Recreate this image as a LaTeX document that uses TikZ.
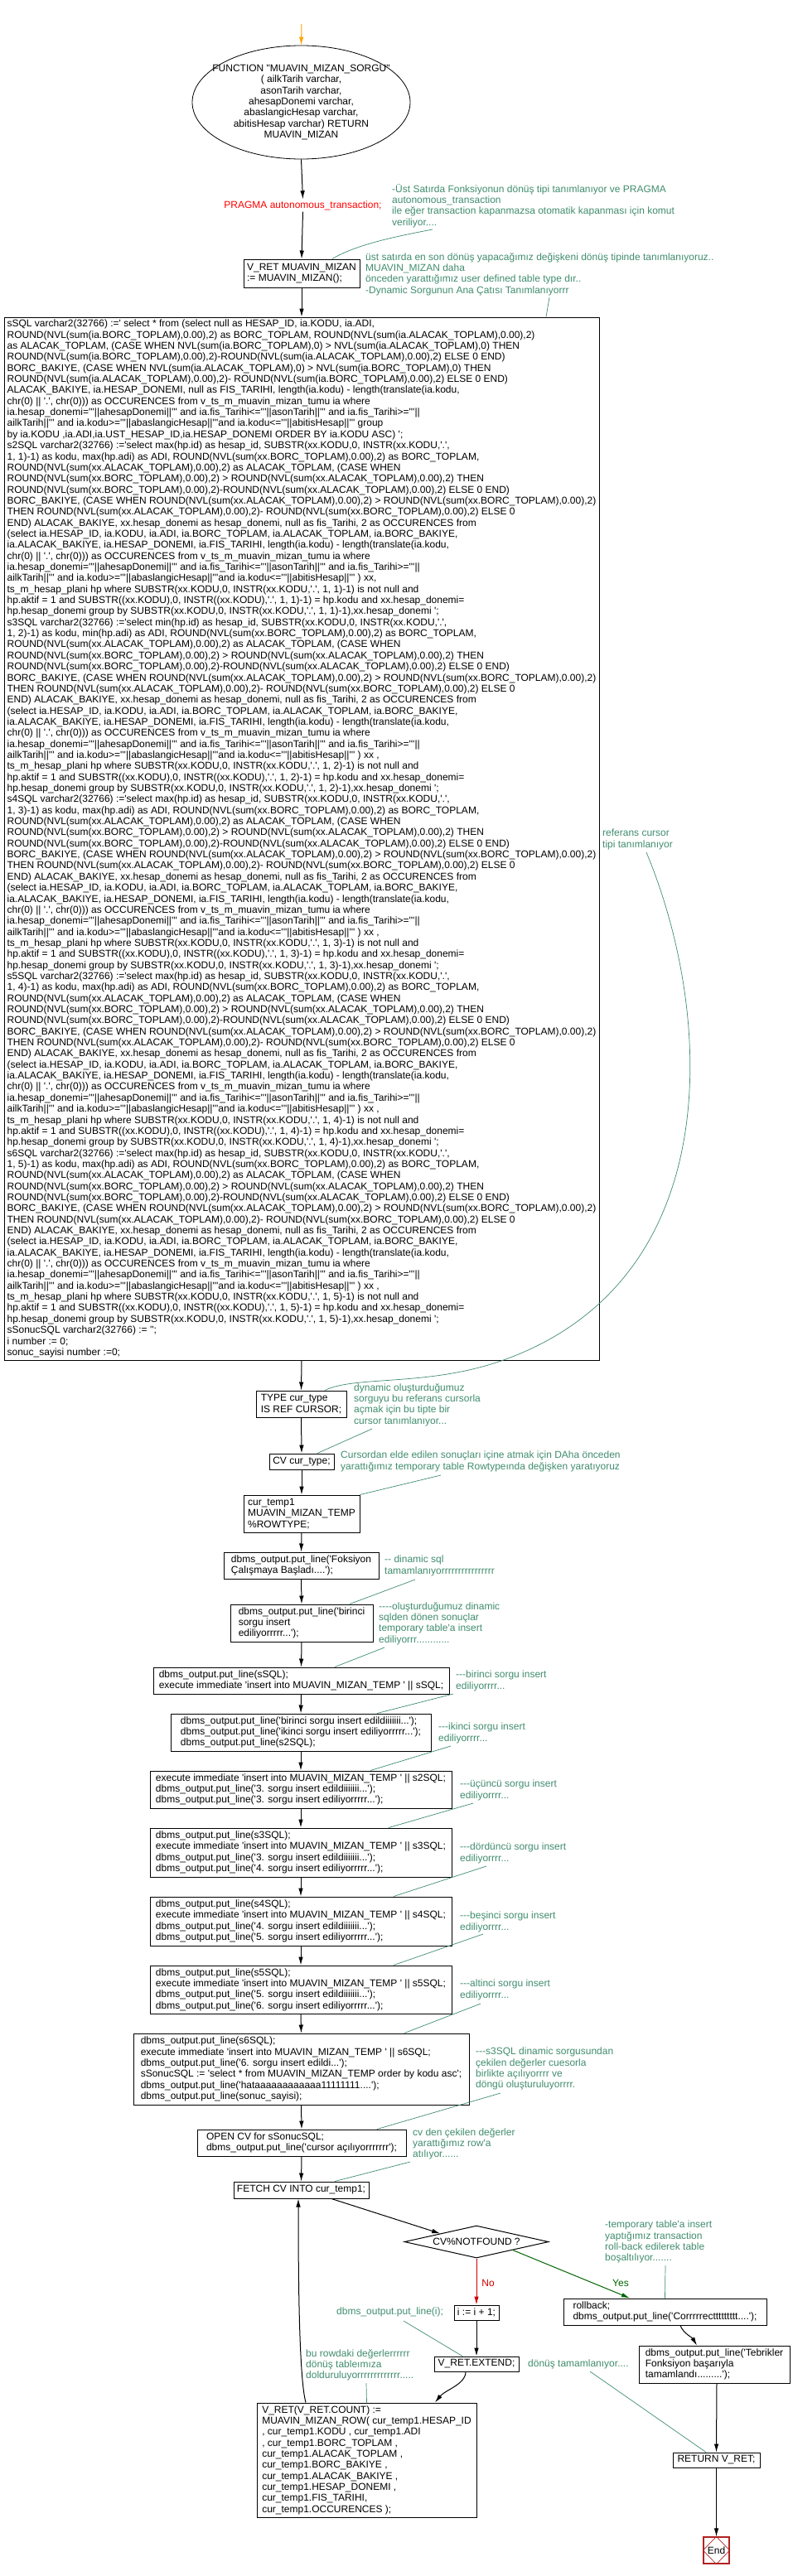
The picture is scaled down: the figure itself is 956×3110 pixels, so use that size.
\documentclass[tikz,border=0pt]{standalone}
\usepackage{fontspec}
\newfontfamily\arialf{Liberation Sans}
\usetikzlibrary{arrows.meta,shapes.geometric,calc}
\definecolor{cmtc}{RGB}{64,140,110}
\definecolor{endred}{RGB}{178,34,34}
\definecolor{yesgreen}{RGB}{0,100,0}
\definecolor{nored}{RGB}{210,0,0}
\definecolor{orng}{RGB}{255,165,0}
\newcommand\dfs{\fontsize{12}{13.35}\selectfont}
\newcommand\qq[1]{\hbox{#1}}
\newcommand\sqlblk[4]{%
\qq{s#1SQL varchar2(32766) :='select #3(hp.id) as hesap\_id, SUBSTR(xx.KODU,0, INSTR(xx.KODU,'.',}%
\qq{1, #2)-1) as kodu, #3(hp.adi) as ADI, ROUND(NVL(sum(xx.BORC\_TOPLAM),0.00),2) as BORC\_TOPLAM,}%
\qq{ROUND(NVL(sum(xx.ALACAK\_TOPLAM),0.00),2) as ALACAK\_TOPLAM, (CASE WHEN}%
\qq{ROUND(NVL(sum(xx.BORC\_TOPLAM),0.00),2) > ROUND(NVL(sum(xx.ALACAK\_TOPLAM),0.00),2) THEN}%
\qq{ROUND(NVL(sum(xx.BORC\_TOPLAM),0.00),2)-ROUND(NVL(sum(xx.ALACAK\_TOPLAM),0.00),2) ELSE 0 END)}%
\qq{BORC\_BAKIYE, (CASE WHEN ROUND(NVL(sum(xx.ALACAK\_TOPLAM),0.00),2) > ROUND(NVL(sum(xx.BORC\_TOPLAM),0.00),2)}%
\qq{THEN ROUND(NVL(sum(xx.ALACAK\_TOPLAM),0.00),2)- ROUND(NVL(sum(xx.BORC\_TOPLAM),0.00),2) ELSE 0}%
\qq{END) ALACAK\_BAKIYE, xx.hesap\_donemi as hesap\_donemi, null as fis\_Tarihi, 2 as OCCURENCES from}%
\qq{(select ia.HESAP\_ID, ia.KODU, ia.ADI, ia.BORC\_TOPLAM, ia.ALACAK\_TOPLAM, ia.BORC\_BAKIYE,}%
\qq{ia.ALACAK\_BAKIYE, ia.HESAP\_DONEMI, ia.FIS\_TARIHI, length(ia.kodu) - length(translate(ia.kodu,}%
\qq{chr(0) || '.', chr(0))) as OCCURENCES from v\_ts\_m\_muavin\_mizan\_tumu ia  where}%
\qq{ia.hesap\_donemi='''||ahesapDonemi||''' and ia.fis\_Tarihi<='''||asonTarih||''' and ia.fis\_Tarihi>='''||}%
\qq{ailkTarih||''' and ia.kodu>='''||abaslangicHesap||'''and ia.kodu<='''||abitisHesap||''' ) #4}%
\qq{ts\_m\_hesap\_plani hp where  SUBSTR(xx.KODU,0, INSTR(xx.KODU,'.', 1, #2)-1) is not null and}%
\qq{hp.aktif = 1 and SUBSTR((xx.KODU),0, INSTR((xx.KODU),'.', 1, #2)-1)  = hp.kodu and xx.hesap\_donemi=}%
\qq{hp.hesap\_donemi group by SUBSTR(xx.KODU,0, INSTR(xx.KODU,'.', 1, #2)-1),xx.hesap\_donemi  ';}}
\begin{document}
\begin{tikzpicture}[x=1pt,y=-1pt,
  every node/.style={font=\arialf\dfs},
  box/.style={draw, line width=1pt, align=left, inner sep=2pt},
  cmt/.style={text=cmtc, align=left, inner sep=0pt, anchor=north west},
  lnk/.style={draw=cmtc, line width=0.7pt},
  arr/.style={draw, line width=1pt, -{Latex[length=10pt,width=5.5pt]}}]
\useasboundingbox (0,0) rectangle (956,3110);

% ---------- top ----------
\coordinate (start) at (364,29);
\node[draw, ellipse, line width=0.8pt, minimum width=263, minimum height=137, inner sep=0] (func) at (363.5,123.5) {};
\node[align=center, inner sep=0] (functxt) at (func.center) {FUNCTION "MUAVIN\_MIZAN\_SORGU"\\( ailkTarih varchar,\\asonTarih varchar,\\ahesapDonemi  varchar,\\abaslangicHesap varchar,\\abitisHesap varchar) RETURN\\MUAVIN\_MIZAN};
\node[text=red, inner sep=2pt] (pragma) at (365.5,248) {PRAGMA autonomous\_transaction;};
\node[box, minimum width=140, minimum height=34] (vret) at (364,330) {V\_RET MUAVIN\_MIZAN\\:= MUAVIN\_MIZAN();};

\node[draw, line width=1pt, inner sep=2pt, minimum width=718, minimum height=1259] (sql) at (364,1012.5) {\vbox{\baselineskip=13.35pt\lineskiplimit=-20pt\lineskip=0pt
\qq{sSQL varchar2(32766) :=' select * from (select null as HESAP\_ID, ia.KODU, ia.ADI,}%
\qq{ROUND(NVL(sum(ia.BORC\_TOPLAM),0.00),2) as BORC\_TOPLAM, ROUND(NVL(sum(ia.ALACAK\_TOPLAM),0.00),2)}%
\qq{as ALACAK\_TOPLAM, (CASE WHEN NVL(sum(ia.BORC\_TOPLAM),0) > NVL(sum(ia.ALACAK\_TOPLAM),0) THEN}%
\qq{ROUND(NVL(sum(ia.BORC\_TOPLAM),0.00),2)-ROUND(NVL(sum(ia.ALACAK\_TOPLAM),0.00),2) ELSE 0 END)}%
\qq{BORC\_BAKIYE, (CASE WHEN NVL(sum(ia.ALACAK\_TOPLAM),0) > NVL(sum(ia.BORC\_TOPLAM),0) THEN}%
\qq{ROUND(NVL(sum(ia.ALACAK\_TOPLAM),0.00),2)- ROUND(NVL(sum(ia.BORC\_TOPLAM),0.00),2) ELSE 0 END)}%
\qq{ALACAK\_BAKIYE, ia.HESAP\_DONEMI, null as FIS\_TARIHI, length(ia.kodu) - length(translate(ia.kodu,}%
\qq{chr(0) || '.', chr(0))) as OCCURENCES from v\_ts\_m\_muavin\_mizan\_tumu ia  where}%
\qq{ia.hesap\_donemi='''||ahesapDonemi||''' and ia.fis\_Tarihi<='''||asonTarih||''' and ia.fis\_Tarihi>='''||}%
\qq{ailkTarih||''' and ia.kodu>='''||abaslangicHesap||'''and ia.kodu<='''||abitisHesap||''' group}%
\qq{by ia.KODU ,ia.ADI,ia.UST\_HESAP\_ID,ia.HESAP\_DONEMI ORDER BY ia.KODU ASC) ';}%
\sqlblk{2}{1}{max}{xx,}%
\sqlblk{3}{2}{min}{xx ,}%
\sqlblk{4}{3}{max}{xx ,}%
\sqlblk{5}{4}{max}{xx ,}%
\sqlblk{6}{5}{max}{xx ,}%
\qq{sSonucSQL  varchar2(32766) := '';}%
\qq{i number := 0;}%
\qq{sonuc\_sayisi  number :=0;}}};

% ---------- middle chain ----------
\node[box, minimum width=109, minimum height=32] (type) at (363.5,1695) {TYPE cur\_type\\IS REF CURSOR;};
\node[box, minimum width=78, minimum height=19] (cv) at (364,1764.5) {CV cur\_type;};
\node[box, minimum width=140, minimum height=45] (curtemp) at (364,1827.5) {cur\_temp1\\MUAVIN\_MIZAN\_TEMP\\\%ROWTYPE;};
\node[box, minimum width=187, minimum height=32] (fok) at (363.5,1890) {dbms\_output.put\_line('Foksiyon\\Çalışmaya Başladı....');};
\node[box, minimum width=172, minimum height=45] (bir) at (364,1959.5) {dbms\_output.put\_line('birinci\\sorgu insert\\ediliyorrrrr...');};
\node[box, minimum width=357, minimum height=32] (ssql) at (363.5,2029) {dbms\_output.put\_line(sSQL);\\execute immediate 'insert into MUAVIN\_MIZAN\_TEMP ' || sSQL;};
\node[box, minimum width=314, minimum height=45] (b3) at (363,2091.5) {dbms\_output.put\_line('birinci sorgu insert edildiiiiiii...');\\dbms\_output.put\_line('ikinci sorgu insert ediliyorrrrr...');\\dbms\_output.put\_line(s2SQL);};
\node[box, minimum width=364, minimum height=45] (b4) at (363,2160.5) {execute immediate 'insert into MUAVIN\_MIZAN\_TEMP ' || s2SQL;\\dbms\_output.put\_line('3. sorgu insert edildiiiiiii...');\\dbms\_output.put\_line('3. sorgu insert ediliyorrrrr...');};
\node[box, minimum width=364, minimum height=59] (b5) at (363,2236.5) {dbms\_output.put\_line(s3SQL);\\execute immediate 'insert into MUAVIN\_MIZAN\_TEMP ' || s3SQL;\\dbms\_output.put\_line('3. sorgu insert edildiiiiiii...');\\dbms\_output.put\_line('4. sorgu insert ediliyorrrrr...');};
\node[box, minimum width=364, minimum height=59] (b6) at (363,2319.5) {dbms\_output.put\_line(s4SQL);\\execute immediate 'insert into MUAVIN\_MIZAN\_TEMP ' || s4SQL;\\dbms\_output.put\_line('4. sorgu insert edildiiiiiii...');\\dbms\_output.put\_line('5. sorgu insert ediliyorrrrr...');};
\node[box, minimum width=364, minimum height=58] (b7) at (363,2402) {dbms\_output.put\_line(s5SQL);\\execute immediate 'insert into MUAVIN\_MIZAN\_TEMP ' || s5SQL;\\dbms\_output.put\_line('5. sorgu insert edildiiiiiii...');\\dbms\_output.put\_line('6. sorgu insert ediliyorrrrr...');};
\node[box, minimum width=405, minimum height=86] (b8) at (363.5,2498) {dbms\_output.put\_line(s6SQL);\\execute immediate 'insert into MUAVIN\_MIZAN\_TEMP ' || s6SQL;\\dbms\_output.put\_line('6. sorgu insert edildi...');\\sSonucSQL := 'select  * from MUAVIN\_MIZAN\_TEMP order by kodu asc';\\dbms\_output.put\_line('hataaaaaaaaaaaa11111111....');\\dbms\_output.put\_line(sonuc\_sayisi);};
\node[box, minimum width=252, minimum height=32] (open) at (364,2587) {OPEN CV for sSonucSQL;\\dbms\_output.put\_line('cursor açılıyorrrrrrr');};
\node[box, minimum width=163, minimum height=20] (fetch) at (363.5,2644) {FETCH CV INTO cur\_temp1;};

% ---------- loop part ----------
\node[draw, diamond, line width=1pt, aspect=4.46, minimum width=174, minimum height=39, inner sep=0pt] (dia) at (575,2706.5) {CV\%NOTFOUND ?};
\node[box, minimum width=54, minimum height=18] (ibox) at (575,2792) {i := i + 1;};
\node[box, minimum width=245, minimum height=32] (rollback) at (802.5,2791) {rollback;\\dbms\_output.put\_line('Corrrrrecttttttttt....');};
\node[box, minimum width=102, minimum height=18] (extend) at (575,2854) {V\_RET.EXTEND;};
\node[box, minimum width=265, minimum height=138] (vretrow) at (442.5,2970) {V\_RET(V\_RET.COUNT) :=\\MUAVIN\_MIZAN\_ROW( cur\_temp1.HESAP\_ID\\, cur\_temp1.KODU , cur\_temp1.ADI\\, cur\_temp1.BORC\_TOPLAM ,\\cur\_temp1.ALACAK\_TOPLAM ,\\cur\_temp1.BORC\_BAKIYE ,\\cur\_temp1.ALACAK\_BAKIYE ,\\cur\_temp1.HESAP\_DONEMI ,\\cur\_temp1.FIS\_TARIHI,\\cur\_temp1.OCCURENCES );};
\node[box, minimum width=182, minimum height=45] (tebrik) at (862,2854.5) {dbms\_output.put\_line('Tebrikler\\Fonksiyon başarıyla\\tamamlandı.........');};
\node[box, minimum width=105, minimum height=18] (return) at (864.5,2970) {RETURN V\_RET;};
\node[draw=endred, line width=1.2pt, minimum width=31, minimum height=32, inner sep=0pt] (endn) at (864.5,3079) {End};
\draw[endred, line width=0.7pt] (endn.north) -- (endn.east) -- (endn.south) -- (endn.west) -- cycle;

\node[text=nored, inner sep=0pt] (nolbl) at (589,2756) {No};
\node[text=yesgreen, inner sep=0pt] (yeslbl) at (749,2756) {Yes};

% ---------- main arrows ----------
\draw[arr, draw=orng] (start) -- (func.north);
\draw[arr] (func.south) -- (pragma.north);
\draw[arr] (pragma.south) -- (vret.north);
\draw[arr] (vret.south) -- (sql.north);
\draw[arr] (sql.south) -- (type.north);
\draw[arr] (type.south) -- (cv.north);
\draw[arr] (cv.south) -- (curtemp.north);
\draw[arr] (curtemp.south) -- (fok.north);
\draw[arr] (fok.south) -- (bir.north);
\draw[arr] (bir.south) -- (ssql.north);
\draw[arr] (ssql.south) -- (b3.north);
\draw[arr] (b3.south) -- (b4.north);
\draw[arr] (b4.south) -- (b5.north);
\draw[arr] (b5.south) -- (b6.north);
\draw[arr] (b6.south) -- (b7.north);
\draw[arr] (b7.south) -- (b8.north);
\draw[arr] (b8.south) -- (open.north);
\draw[arr] (open.south) -- (fetch.north);
\draw[arr] ($(fetch.south)+(36.5,0)$) -- (dia.north west);
\draw[arr, draw=nored] (dia.south) -- (ibox.north);
\draw[arr, draw=yesgreen] (dia.south east) -- ($(rollback.north)+(-42.5,0)$);
\draw[arr] (ibox.south) -- (extend.north);
\draw[arr] ($(extend.south)+(-13,0)$) .. controls +(0,15) and +(12,-15) .. ($(vretrow.north)+(82.5,0)$);
\draw[arr] ($(vretrow.north)+(-73.5,0)$) .. controls +(-8,-30) and +(0,100) .. ($(fetch.south)+(-3.5,0)$);
\draw[arr] ($(rollback.south)+(18.5,0)$) .. controls +(4,10) and +(-6,-10) .. ($(tebrik.north)+(-21,0)$);
\draw[arr] ($(tebrik.south)+(3,0)$) -- (return.north);
\draw[arr] (return.south) -- (endn.north);

% ---------- comments ----------
\node[cmt] (c1) at (473,222) {-Üst Satırda Fonksiyonun dönüş tipi tanımlanıyor ve PRAGMA\\autonomous\_transaction\\ile eğer transaction kapanmazsa otomatik kapanması için komut\\veriliyor....};
\node[cmt] (c2) at (441,305) {üst satırda en son dönüş yapacağımız değişkeni dönüş tipinde  tanımlanıyoruz..\\MUAVIN\_MIZAN daha\\önceden yarattığımız user defined table type dır..\\-Dynamic Sorgunun Ana Çatısı Tanımlanıyorrr};
\node[cmt] (c3) at (727,1001) {referans cursor\\tipi tanımlanıyor};
\node[cmt] (c4) at (427,1670) {dynamic oluşturduğumuz\\sorguyu bu referans cursorla\\açmak için bu tipte bir\\cursor tanımlanıyor...};
\node[cmt] (c5) at (411,1752) {Cursordan elde edilen sonuçları içine atmak için  DAha önceden\\yarattığımız temporary table Rowtypeında  değişken yaratıyoruz};
\node[cmt] (c6) at (464,1878) {-- dinamic sql\\tamamlanıyorrrrrrrrrrrrrrrr};
\node[cmt] (c7) at (457,1934) {----oluşturduğumuz dinamic\\sqlden dönen sonuçlar\\temporary table'a insert\\ediliyorrr............};
\node[cmt] (c8) at (550,2017) {---birinci sorgu insert\\ediliyorrrr...};
\node[cmt] (c9) at (529,2080) {---ikinci sorgu insert\\ediliyorrrr...};
\node[cmt] (c10) at (555,2149) {---üçüncü sorgu insert\\ediliyorrrr...};
\node[cmt] (c11) at (555,2225) {---dördüncü sorgu insert\\ediliyorrrr...};
\node[cmt] (c12) at (555,2308) {---beşinci sorgu insert\\ediliyorrrr...};
\node[cmt] (c13) at (555,2390) {---altinci sorgu insert\\ediliyorrrr...};
\node[cmt] (c14) at (574,2472) {---s3SQL dinamic sorgusundan\\çekilen değerler cuesorla\\birlikte  açılıyorrrr ve\\döngü oluşturuluyorrrr.};
\node[cmt] (c15) at (498,2569) {cv den çekilen değerler\\yarattığımız row'a\\atılıyor......};
\node[cmt] (c16) at (730,2681) {-temporary table'a  insert\\yaptığımız transaction\\roll-back edilerek  table\\boşaltılıyor.......};
\node[cmt] (c17) at (406,2786) {dbms\_output.put\_line(i);};
\node[cmt] (c18) at (369,2836) {bu rowdaki değerlerrrrrr\\dönüş tableımıza\\dolduruluyorrrrrrrrrrrrr.....};
\node[cmt] (c19) at (637,2849) {dönüş tamamlanıyor....};

% ---------- comment links ----------
\coordinate (l1) at (522,277);
\coordinate (l2) at (663,359);
\coordinate (l3) at (780,1029);
\coordinate (l4) at (449,1725);
\coordinate (l5) at (532,1781);
\coordinate (l6) at (501,1907);
\coordinate (l7) at (464,1989);
\coordinate (l8) at (547,2045);
\coordinate (l9) at (544,2108);
\coordinate (l10) at (571,2177);
\coordinate (l11) at (587,2253);
\coordinate (l12) at (583,2335);
\coordinate (l13) at (580,2419);
\coordinate (l14) at (604,2527);
\coordinate (l15) at (495,2610);
\coordinate (l16) at (803,2735);
\coordinate (l17) at (487,2802);
\coordinate (l18) at (442,2877);
\coordinate (l19) at (712,2863);
\draw[lnk] (l1) .. controls (480,285) and (430,295) .. ($(vret.north)+(37,0)$);
\draw[lnk] (l2) -- ($(sql.north)+(295,0)$);
\draw[lnk] (l3) .. controls (860,1220) and (880,1540) .. (613,1640) .. controls (520,1675) and (430,1660) .. ($(type.north)+(28.5,0)$);
\draw[lnk] (l4) -- ($(cv.north)+(19,0)$);
\draw[lnk] (l5) -- (curtemp.north east);
\draw[lnk] (l6) -- ($(bir.north)+(58,0)$);
\draw[lnk] (l7) -- ($(ssql.north)+(40.5,0)$);
\draw[lnk] (l8) -- ($(b3.north)+(92,0)$);
\draw[lnk] (l9) -- ($(b4.north)+(84,0)$);
\draw[lnk] (l10) -- ($(b5.north)+(106,0)$);
\draw[lnk] (l11) -- ($(b6.north)+(112,0)$);
\draw[lnk] (l12) -- ($(b7.north)+(112,0)$);
\draw[lnk] (l13) -- ($(b8.north)+(124.5,0)$);
\draw[lnk] (l14) -- ($(open.north)+(91,0)$);
\draw[lnk] (l15) -- ($(fetch.north)+(40.5,0)$);
\draw[lnk] (l16) -- (rollback.north);
\draw[lnk] (l17) -- ($(extend.north)+(-17,0)$);
\draw[lnk] (l18) -- (vretrow.north);
\draw[lnk] (l19) -- ($(return.north)+(-12.5,0)$);
\end{tikzpicture}
\end{document}
